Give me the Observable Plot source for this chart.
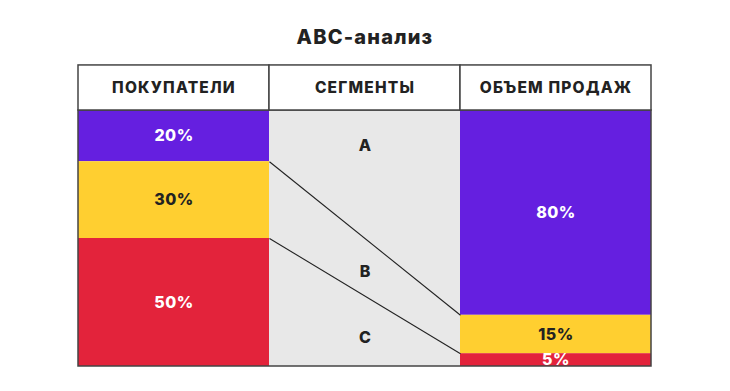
<!DOCTYPE html>
<html><head><meta charset="utf-8">
<script src="https://cdn.jsdelivr.net/npm/d3@7"></script>
<script src="https://cdn.jsdelivr.net/npm/@observablehq/plot@0.6"></script>
<style>
body{margin:0;background:#fff;font-family:Inter,sans-serif;}
#title{height:60px;position:relative;}
#title span{position:absolute;left:0;right:0;text-align:center;top:25px;font:800 20px Inter,sans-serif;letter-spacing:1.2px;color:#222;}
#chart svg{display:block;}
</style></head><body>
<div id="title"><span>ABC-анализ</span></div>
<div id="chart"></div>
<script>
const segments = ["A", "B", "C"];
const headers = ["ПОКУПАТЕЛИ", "СЕГМЕНТЫ", "ОБЪЕМ ПРОДАЖ"];
const customerShare = [20, 30, 50];
const salesShare = [80, 15, 5];
const segmentLabelPos = [14, 63, 89];
const segmentColors = ["#651fe0", "#ffcf30", "#e3233b"];
const headerDepth = 17.6;

function stackColumn(shares, col) {
  let c = 0;
  return shares.map((s, i) => {
    const y1 = c; c += s;
    return {seg: segments[i], col, y1, y2: c, mid: (y1 + c) / 2, label: s + "%"};
  });
}
const left = stackColumn(customerShare, 0);
const right = stackColumn(salesShare, 2);
const blocks = left.concat(right);
const headerRows = headers.map((h, i) => ({h, col: i}));
const segLabels = segments.map((s, i) => ({s, y: segmentLabelPos[i]}));
const boundaries = [0, 1].map(i => ({l: left[i].y2, r: right[i].y2}));

const headFont = {fontFamily: "Inter, sans-serif", fontWeight: 800, fontSize: 15.5};
const font = {fontFamily: "Inter, sans-serif", fontWeight: 800, fontSize: 16};

const chart = Plot.plot({
  width: 730, height: 331,
  marginLeft: 78, marginRight: 79, marginTop: 5, marginBottom: 25,
  x: {domain: [0, 3], axis: null},
  y: {domain: [0, 100], range: [50, 306], axis: null},
  color: {domain: segments, range: segmentColors},
  marks: [
    Plot.rect([0], {x1: 1, x2: 2, y1: 0, y2: 100, fill: "#e8e8e8"}),
    Plot.rect(blocks, {x1: "col", x2: d => d.col + 1, y1: "y1", y2: "y2", fill: "seg"}),
    Plot.link(boundaries, {x1: 1, x2: 2, y1: "l", y2: "r", stroke: "#222", strokeWidth: 1.1}),
    Plot.rect([0], {x1: 0, x2: 3, y1: 0, y2: 100, fill: "none", stroke: "#444", strokeWidth: 1.5}),
    Plot.rect(headerRows, {x1: "col", x2: d => d.col + 1, y1: -headerDepth, y2: 0, fill: "white", stroke: "#444", strokeWidth: 1.5}),
    Plot.text(headerRows, {x: d => d.col + 0.5, y: -headerDepth / 2, text: "h", fill: "#222", ...headFont}),
    Plot.text(blocks.filter(d => d.seg !== "B"), {x: d => d.col + 0.5, y: "mid", text: "label", fill: "white", ...font}),
    Plot.text(blocks.filter(d => d.seg === "B"), {x: d => d.col + 0.5, y: "mid", text: "label", fill: "#222", ...font}),
    Plot.text(segLabels, {x: 1.5, y: "y", text: "s", fill: "#222", ...font})
  ]
});
const textGroups = d3.select(chart).selectAll('g[aria-label="text"]').nodes();
const spacings = ["1.2px", "0.5px", "0.5px", "0px"];
textGroups.forEach((g, i) => g.style.letterSpacing = spacings[i] || "0px");
document.getElementById("chart").appendChild(chart);
</script>
</body></html>
